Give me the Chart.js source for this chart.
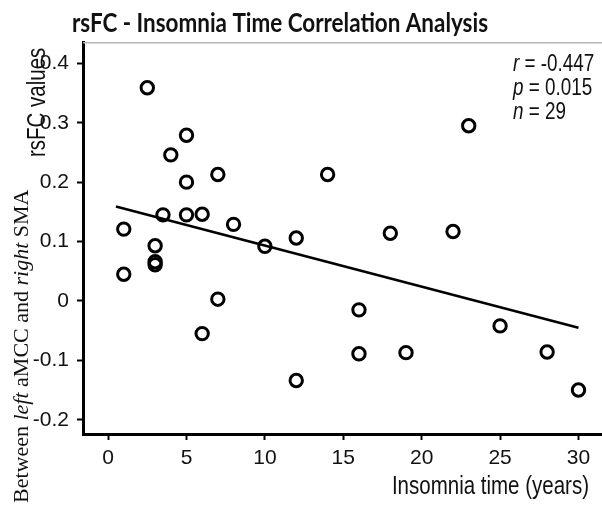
<!DOCTYPE html>
<html><head><meta charset="utf-8">
<script src="https://cdn.jsdelivr.net/npm/chart.js@4.4.0/dist/chart.umd.min.js"></script>
<style>html,body{margin:0;padding:0;background:#fff;} canvas{display:block;}</style>
</head><body>
<canvas id="c" width="602" height="507"></canvas>
<script>
const titleText = 'rsFC - Insomnia Time Correlation Analysis';
const xTitle = 'Insomnia time (years)';
const yTitleTop = 'rsFC values';
const yTitleParts = [['Between ', false], ['left', true], [' aMCC and ', false], ['right', true], [' SMA', false]];
const statLetters = ['r', 'p', 'n'];
const statValues = [' = -0.447', ' = 0.015', ' = 29'];
const insomniaYears = [2.5, 5, 4, 5, 7, 14, 3.5, 5, 6, 8, 1, 3, 3, 3, 10, 12, 1, 7, 6, 12, 23, 18, 22, 16, 16, 19, 25, 28, 30];
const rsfcValues = [0.359, 0.279, 0.246, 0.200, 0.213, 0.213, 0.145, 0.145, 0.146, 0.129, 0.121, 0.093, 0.066, 0.061, 0.092, 0.106, 0.045, 0.003, -0.055, -0.134, 0.295, 0.114, 0.117, -0.015, -0.089, -0.087, -0.042, -0.086, -0.150];
const fitX = [0.5, 30];
const fitY = [0.159, -0.045];
const xTickVals = [0, 5, 10, 15, 20, 25, 30];
const yTickVals = [-0.2, -0.1, 0, 0.1, 0.2, 0.3, 0.4];

const SANS = "'Liberation Sans', Arial, sans-serif";
const NARROW_SCALE = 0.82;

function drawParts(ctx, parts) {
  let xo = 0;
  parts.forEach(([t, font]) => {
    ctx.font = font;
    ctx.fillText(t, xo, 0);
    xo += ctx.measureText(t).width;
  });
  return xo;
}

const textPlugin = {
  id: 'texts',
  afterDraw(chart) {
    const ctx = chart.ctx, ca = chart.chartArea;
    ctx.save();
    // light top frame line
    ctx.strokeStyle = '#b5b5b5'; ctx.lineWidth = 1.5;
    ctx.beginPath(); ctx.moveTo(ca.left, ca.top + 0.75); ctx.lineTo(ca.right, ca.top + 0.75); ctx.stroke();
    ctx.fillStyle = '#111';
    ctx.textBaseline = 'alphabetic';
    // title (condensed to the reference width)
    const tFont = "bold 27px Lato, 'Open Sans', sans-serif";
    ctx.font = tFont;
    const tw = ctx.measureText(titleText).width;
    ctx.save();
    ctx.translate(72, 32); ctx.scale(416 / tw, 1);
    ctx.textAlign = 'left';
    ctx.fillText(titleText, 0, 0);
    ctx.restore();
    // x title
    ctx.save();
    ctx.font = `25px ${SANS}`;
    const xw = ctx.measureText(xTitle).width * NARROW_SCALE;
    ctx.translate(589 - xw, 494); ctx.scale(NARROW_SCALE, 1);
    ctx.textAlign = 'left';
    ctx.fillText(xTitle, 0, 0);
    ctx.restore();
    // stats
    ctx.textAlign = 'left';
    const baselines = [71, 95, 119];
    statLetters.forEach((l, i) => {
      ctx.save();
      ctx.translate(513, baselines[i]); ctx.scale(NARROW_SCALE, 1);
      drawParts(ctx, [[l, `italic 23px ${SANS}`], [statValues[i], `23px ${SANS}`]]);
      ctx.restore();
    });
    // y titles (rotated)
    ctx.save();
    ctx.translate(45, 157); ctx.rotate(-Math.PI / 2); ctx.scale(NARROW_SCALE, 1);
    drawParts(ctx, [[yTitleTop, `25px ${SANS}`]]);
    ctx.restore();
    ctx.save();
    ctx.translate(28, 503); ctx.rotate(-Math.PI / 2);
    drawParts(ctx, yTitleParts.map(([t, it]) => [t, `${it ? 'italic ' : ''}22px 'Liberation Serif', serif`]));
    ctx.restore();
    ctx.restore();
  }
};

new Chart(document.getElementById('c'), {
  type: 'scatter',
  data: {
    datasets: [
      {
        type: 'line',
        data: fitX.map((x, i) => ({ x: x, y: fitY[i] })),
        borderColor: '#000', borderWidth: 2.5, pointRadius: 0, fill: false, order: 2
      },
      {
        type: 'scatter',
        data: insomniaYears.map((x, i) => ({ x: x, y: rsfcValues[i] })),
        pointStyle: 'circle', pointRadius: 6.2, pointHoverRadius: 6.2,
        borderWidth: 3, pointBorderWidth: 3,
        borderColor: '#000', backgroundColor: 'rgba(255,255,255,0)', order: 1
      }
    ]
  },
  options: {
    responsive: false, animation: false, devicePixelRatio: 1,
    layout: { autoPadding: false, padding: { top: 42, right: 0, left: 0, bottom: 0 } },
    plugins: { legend: { display: false }, tooltip: { enabled: false }, title: { display: false } },
    scales: {
      x: {
        type: 'linear', min: -1.6, max: 31.5,
        afterBuildTicks: s => { s.ticks = xTickVals.map(v => ({ value: v })); },
        afterFit: s => { s.height = 73; s.paddingLeft = 0; s.paddingRight = 0; },
        grid: { display: true, drawOnChartArea: false, drawTicks: true, tickLength: 6, tickWidth: 2, tickColor: '#000' },
        border: { display: true, color: '#000', width: 3 },
        ticks: { color: '#111', font: { family: SANS, size: 21 }, padding: 6, maxRotation: 0, autoSkip: false, callback: v => String(v) }
      },
      y: {
        type: 'linear', min: -0.224, max: 0.436,
        afterBuildTicks: s => { s.ticks = yTickVals.map(v => ({ value: v })); },
        afterFit: s => { s.width = 83; s.paddingTop = 0; s.paddingBottom = 0; },
        grid: { display: true, drawOnChartArea: false, drawTicks: true, tickLength: 6, tickWidth: 2, tickColor: '#000' },
        border: { display: true, color: '#000', width: 3 },
        ticks: { color: '#111', font: { family: SANS, size: 21 }, padding: 8, autoSkip: false, callback: v => (v === 0 ? '0' : v.toFixed(1)) }
      }
    }
  },
  plugins: [textPlugin]
});
</script>
</body></html>
